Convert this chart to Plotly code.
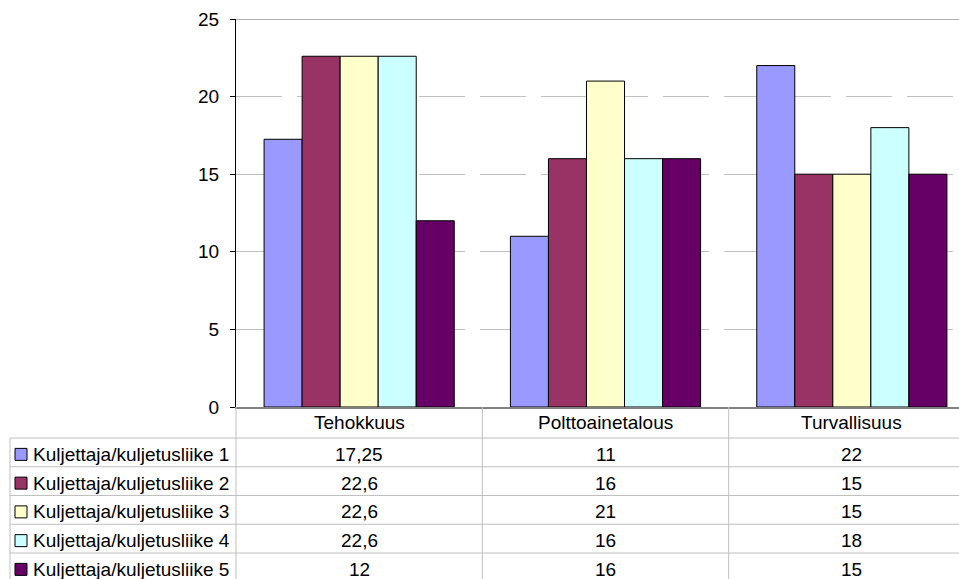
import plotly.graph_objects as go

categories = ["Tehokkuus", "Polttoainetalous", "Turvallisuus"]
series_names = [
    "Kuljettaja/kuljetusliike 1",
    "Kuljettaja/kuljetusliike 2",
    "Kuljettaja/kuljetusliike 3",
    "Kuljettaja/kuljetusliike 4",
    "Kuljettaja/kuljetusliike 5",
]
s1 = [17.25, 11, 22]
s2 = [22.6, 16, 15]
s3 = [22.6, 21, 15]
s4 = [22.6, 16, 18]
s5 = [12, 16, 15]
series_values = [s1, s2, s3, s4, s5]
colors = ["#9999FF", "#993366", "#FFFFCC", "#CCFFFF", "#660066"]
y_ticks = [0, 5, 10, 15, 20, 25]

W, H = 959, 579
FONT = "Liberation Sans, Arial, sans-serif"
FS = 19


def py(p):
    return (H - p) / H


def px(p):
    return p / W


def fmt(v):
    return f"{v:g}".replace(".", ",")


fig = go.Figure()
for name, vals, col in zip(series_names, series_values, colors):
    fig.add_trace(go.Bar(
        x=list(range(len(categories))), y=vals, name=name,
        marker=dict(color=col, line=dict(color="#000000", width=1)),
        showlegend=False,
    ))

shapes = []
annotations = []

# top line at 25
shapes.append(dict(type="line", xref="paper", yref="y", x0=px(236), x1=1, y0=25, y1=25,
                   line=dict(color="#999999", width=1.6)))

# table geometry
header_top = 407
row_top0 = 438
row_h = 28.75
grid_col = "#c0c0c0"

for i in range(len(series_names)):
    yy = row_top0 + i * row_h
    shapes.append(dict(type="line", xref="paper", yref="paper", x0=px(10), x1=1,
                       y0=py(yy), y1=py(yy), line=dict(color=grid_col, width=1)))
shapes.append(dict(type="line", xref="paper", yref="paper", x0=px(10), x1=px(10),
                   y0=py(row_top0), y1=0, line=dict(color=grid_col, width=1)))
shapes.append(dict(type="line", xref="paper", yref="paper", x0=px(236), x1=px(236),
                   y0=py(header_top), y1=0, line=dict(color=grid_col, width=1)))
for b in [0.5, 1.5]:
    shapes.append(dict(type="line", xref="x", yref="paper", x0=b, x1=b,
                       y0=py(header_top), y1=0, line=dict(color=grid_col, width=1)))

for i, c in enumerate(categories):
    annotations.append(dict(x=i, xref="x", y=py(423), yref="paper", text=c,
                            showarrow=False, xanchor="center", yanchor="middle",
                            font=dict(family=FONT, size=FS, color="#000000")))

for r, (name, vals, col) in enumerate(zip(series_names, series_values, colors)):
    yc = row_top0 + r * row_h + row_h / 2 + 2
    shapes.append(dict(type="rect", xref="paper", yref="paper",
                       x0=px(15), x1=px(27), y0=py(yc - 6), y1=py(yc + 6),
                       fillcolor=col, line=dict(color="#000000", width=1)))
    annotations.append(dict(x=px(31), xref="paper", y=py(yc), yref="paper", text=name,
                            showarrow=False, xanchor="left", yanchor="middle",
                            font=dict(family=FONT, size=FS, color="#000000")))
    for i, v in enumerate(vals):
        annotations.append(dict(x=i, xref="x", y=py(yc), yref="paper", text=fmt(v),
                                showarrow=False, xanchor="center", yanchor="middle",
                                font=dict(family=FONT, size=FS, color="#000000")))

fig.update_layout(
    width=W, height=H, autosize=False,
    margin=dict(l=0, r=0, t=0, b=0, pad=0, autoexpand=False),
    paper_bgcolor="white", plot_bgcolor="white",
    barmode="group", bargap=0.228, bargroupgap=0,
    shapes=shapes, annotations=annotations,
    font=dict(family=FONT, size=FS, color="#000000"),
    xaxis=dict(domain=[px(236), 1], range=[-0.5, 2.435], showticklabels=False,
               ticks="", showgrid=False, zeroline=False, automargin=False,
               showline=True, linecolor="#808080", linewidth=1.5),
    yaxis=dict(domain=[py(407), py(19)], range=[0, 25], tickvals=y_ticks,
               ticktext=[str(t) for t in y_ticks], automargin=False,
               ticks="outside", ticklen=5, tickcolor="#000000", tickwidth=1,
               showline=True, linecolor="#000000", linewidth=1,
               showgrid=True, gridcolor="#c0c0c0", gridwidth=1, griddash="46px,15px",
               zeroline=False, ticklabelstandoff=7,
               tickfont=dict(family=FONT, size=FS, color="#000000")),
)

fig.write_html(
    "out.html",
    config={"displayModeBar": False},
    post_script="document.body.style.margin='0';document.body.style.overflow='hidden';",
)
